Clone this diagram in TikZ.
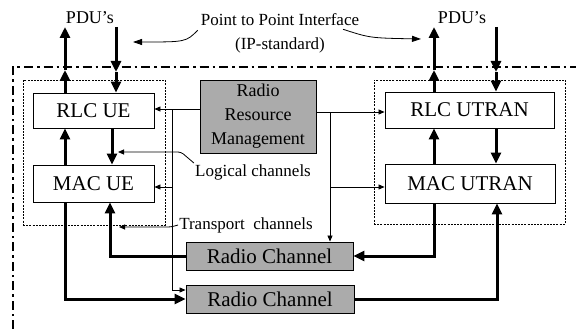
\documentclass[tikz,border=0pt]{standalone}
\usepackage{fontspec}
\setmainfont{Liberation Serif}
\usetikzlibrary{arrows.meta}

\begin{document}
\begin{tikzpicture}[x=1pt,y=-1pt,
  block/.style={draw,line width=0.9pt,inner sep=0pt,font=\fontsize{21}{21}\selectfont},
  shaded/.style={block,fill=black!33},
  group/.style={draw,line width=0.9pt,dash pattern=on 2pt off 1.2pt,inner sep=0pt},
  frame/.style={line width=2.8pt,dash pattern=on 9pt off 4pt on 2.5pt off 4pt},
  label/.style={inner sep=1pt,font=\fontsize{17}{17}\selectfont},
  fat/.style={line width=3pt,-{Triangle[length=11pt,width=10pt]}},
  thinarrow/.style={line width=0.8pt,-{Triangle[length=6pt,width=5pt]}},
  ptarrow/.style={line width=0.8pt,-{Triangle[length=9pt,width=6pt]}}]
\useasboundingbox (0,0) rectangle (576,329);

% outer dash-dot boundary
\coordinate (frameBL) at (13,329);
\coordinate (frameTL) at (13,67);
\coordinate (frameTR) at (576,67);
\draw[frame] (frameBL) -- (frameTL) -- (frameTR);

% dotted groups
\node[group,minimum width=142pt,minimum height=145pt] (uegrp) at (94,152.5) {};
\node[group,minimum width=191pt,minimum height=144pt] (utgrp) at (469.5,152) {};

% protocol blocks
\node[block,fill=white,minimum width=121pt,minimum height=35pt] (rlcue) at (93.5,110.5) {RLC UE};
\node[block,fill=white,minimum width=121pt,minimum height=37pt] (macue) at (93.5,183.5) {MAC UE};
\node[block,fill=white,minimum width=169pt,minimum height=36pt] (rlcut) at (469.5,110) {RLC UTRAN};
\node[block,fill=white,minimum width=170pt,minimum height=39pt] (macut) at (470,183.5) {MAC UTRAN};
\node[shaded,minimum width=116pt,minimum height=73pt,align=center,
      font=\fontsize{18}{24}\selectfont] (rrm) at (258,116.5) {Radio\\Resource\\Management};
\node[shaded,minimum width=167pt,minimum height=28pt] (rc1) at (269.5,256) {Radio Channel};
\node[shaded,minimum width=168pt,minimum height=28pt] (rc2) at (270,299) {Radio Channel};

% texts
\node[inner sep=1pt,font=\fontsize{18}{18}\selectfont] (pduL) at (90,18) {PDU's};
\node[inner sep=1pt,font=\fontsize{18}{18}\selectfont] (pduR) at (462,18) {PDU's};
\node[label] (ptp) at (280,20) {Point to Point Interface};
\node[label] (ipstd) at (280,45) {(IP-standard)};
\node[label] (logch) at (253,172) {Logical channels};
\node[label] (trch) at (246,225) {Transport\ \ channels};

% column positions of the thick flows
\coordinate (ueA) at (65,0);
\coordinate (ueB) at (116,0);
\coordinate (ueC) at (112,0);
\coordinate (ueD) at (110,0);
\coordinate (utA) at (434,0);
\coordinate (utB) at (496,0);
\coordinate (utD) at (497,0);

% PDU flows, left side
\coordinate (ueUpTop) at (65,27);
\coordinate (ueUpMid) at (65,70);
\coordinate (ueDnTop) at (116,27);
\coordinate (ueDnMid) at (116,72);
\draw[fat] (rlcue.north -| ueA) -- (ueUpMid);
\draw[fat] (ueUpMid) -- (ueUpTop);
\draw[fat] (ueDnTop) -- (ueDnMid);
\draw[fat] (ueDnMid) -- (rlcue.north -| ueB);

% PDU flows, right side
\coordinate (utUpTop) at (434,27);
\coordinate (utUpMid) at (434,70);
\coordinate (utDnTop) at (496,27);
\coordinate (utDnMid) at (496,72);
\draw[fat] (rlcut.north -| utA) -- (utUpMid);
\draw[fat] (utUpMid) -- (utUpTop);
\draw[fat] (utDnTop) -- (utDnMid);
\draw[fat] (utDnMid) -- (rlcut.north -| utB);

% RLC <-> MAC
\draw[fat] (macue.north -| ueA) -- (rlcue.south -| ueA);
\draw[fat] (rlcue.south -| ueC) -- (macue.north -| ueC);
\draw[fat] (macut.north -| utA) -- (rlcut.south -| utA);
\draw[fat] (rlcut.south -| utB) -- (macut.north -| utB);

% MAC <-> radio channels
\draw[fat] (rc1.west) -| (macue.south -| ueD);
\draw[fat] (macue.south -| ueA) |- (rc2.west);
\draw[fat] (macut.south -| utA) |- (rc1.east);
\draw[fat] (rc2.east) -| (macut.south -| utD);

% control from radio resource management, UE side
\coordinate (tapL) at (172,109);
\coordinate (tapL2) at (172,187);
\coordinate (tapL3) at (172,290);
\draw[thinarrow] (rrm.west |- tapL) -- (rlcue.east |- tapL);
\draw[line width=0.8pt] (tapL) -- (tapL3);
\draw[thinarrow] (tapL3) -- (rc2.west |- tapL3);
\draw[thinarrow] (tapL2) -- (macue.east |- tapL2);

% control from radio resource management, UTRAN side
\coordinate (tapR) at (330,112);
\coordinate (tapR2) at (330,187);
\draw[thinarrow] (rrm.east |- tapR) -- (rlcut.west |- tapR);
\draw[thinarrow] (tapR) -- (rc1.north -| tapR);
\draw[thinarrow] (tapR2) -- (macut.west |- tapR2);

% leaders of the labels
\coordinate (logBend) at (181,152);
\coordinate (logTip) at (118,152);
\draw[thinarrow,rounded corners=3pt] (logch.north west) -- (logBend) -- (logTip);
\coordinate (trBend) at (171,227);
\coordinate (trTip) at (119,227);
\draw[thinarrow,rounded corners=3pt] (trch.west) -- (trBend) -- (trTip);

% point to point interface arrows
\coordinate (ptLtip) at (133,42);
\coordinate (ptRtip) at (421,39);
\draw[ptarrow] ([xshift=-2pt,yshift=-3pt]ptp.south west) .. controls (186,42) .. (ptLtip);
\draw[ptarrow] ([xshift=63pt,yshift=-2pt]ptp.south) .. controls (370,38) .. (ptRtip);
\end{tikzpicture}
\end{document}
